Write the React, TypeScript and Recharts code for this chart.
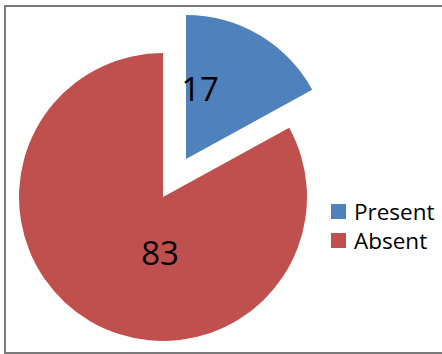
import React from 'react';
import { PieChart, Pie, Cell, Legend } from 'recharts';

const categories = ['Present', 'Absent'];
const values = [17, 83];
const colors = ['#4F81BD', '#C0504D'];

const data = categories.map((name, i) => ({ name, value: values[i] }));

// label offsets from the slice's own centre, like Excel placed them
const labelOffset: Record<string, [number, number]> = {
  Present: [14, -71],
  Absent: [-3, 55],
};

const makeLabel = (only: string) => (props: any) => {
  const { cx, cy, name, value } = props;
  if (name !== only) return null;
  const [dx, dy] = labelOffset[name];
  return (
    <text
      x={cx + dx}
      y={cy + dy}
      textAnchor="middle"
      dominantBaseline="central"
      fill="#000"
      fontSize={33}
      fontFamily="'Open Sans', sans-serif"
    >
      {value}
    </text>
  );
};

const LegendBox = () => (
  <div style={{ fontFamily: "'Open Sans', sans-serif", fontSize: 22.5, color: '#000' }}>
    {categories.map((name, i) => (
      <div key={name} style={{ display: 'flex', alignItems: 'center', height: 29 }}>
        <span style={{ width: 15, height: 15, background: colors[i], marginRight: 8, display: 'inline-block' }} />
        <span>{name}</span>
      </div>
    ))}
  </div>
);

export default function App() {
  return (
    <div style={{ position: 'fixed', left: 0, top: 0, width: 442, height: 354, background: '#fff', overflow: 'hidden' }}>
      <div
        style={{
          position: 'absolute',
          left: 4,
          top: 5,
          width: 460,
          height: 345,
          border: '2px solid #7a7a7a',
        }}
      />
      <div style={{ position: 'absolute', left: 0, top: 0 }}>
        <PieChart width={442} height={354} margin={{ top: 0, right: 0, bottom: 0, left: 0 }}>
          <Pie
            data={data}
            dataKey="value"
            nameKey="name"
            cx={163}
            cy={197}
            outerRadius={144}
            startAngle={90}
            endAngle={-270}
            stroke="none"
            labelLine={false}
            label={makeLabel('Absent')}
            isAnimationActive={false}
          >
            {data.map((d, i) => (
              <Cell key={d.name} fill={d.name === 'Absent' ? colors[i] : 'transparent'} />
            ))}
          </Pie>
          <Pie
            data={data}
            dataKey="value"
            nameKey="name"
            cx={186}
            cy={159}
            outerRadius={144}
            startAngle={90}
            endAngle={-270}
            stroke="none"
            labelLine={false}
            label={makeLabel('Present')}
            isAnimationActive={false}
          >
            {data.map((d, i) => (
              <Cell key={d.name} fill={d.name === 'Present' ? colors[i] : 'transparent'} />
            ))}
          </Pie>
          <Legend
            layout="vertical"
            align="right"
            verticalAlign="top"
            content={<LegendBox />}
            wrapperStyle={{ left: 331, top: 197, width: 110 }}
          />
        </PieChart>
      </div>
    </div>
  );
}
